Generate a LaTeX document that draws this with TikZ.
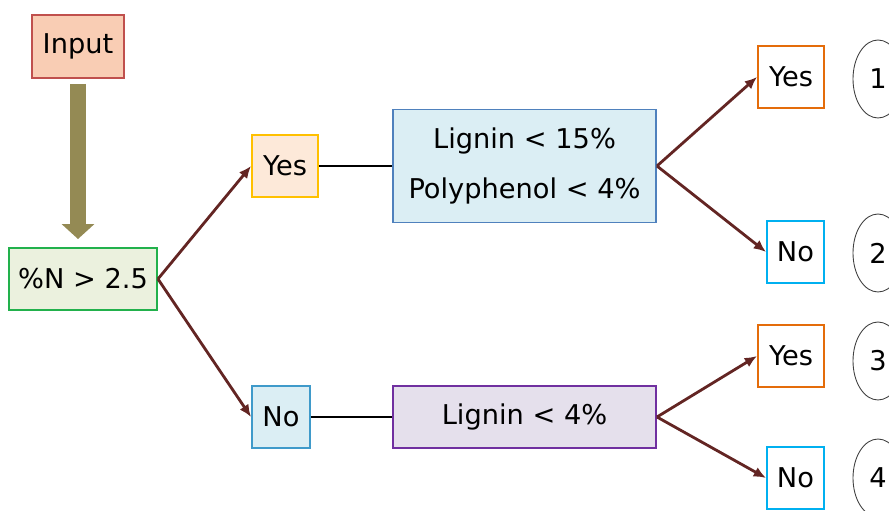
\documentclass[tikz,border=0pt]{standalone}
\usepackage{fontspec}
\setmainfont{DejaVu Sans}
\usepackage{tikz}
\usetikzlibrary{arrows.meta}
\usetikzlibrary{shapes.geometric}
\usepackage{xcolor}

\definecolor{inputfill}{HTML}{F9CDB4}
\definecolor{inputline}{HTML}{C0504D}
\definecolor{condfill}{HTML}{EBF1DE}
\definecolor{condline}{HTML}{22B14C}
\definecolor{yesfill}{HTML}{FDE9D9}
\definecolor{yesline}{HTML}{FFC000}
\definecolor{bluefill}{HTML}{DBEEF4}
\definecolor{blueline}{HTML}{4F81BD}
\definecolor{purplefill}{HTML}{E5E0EC}
\definecolor{purpleline}{HTML}{7030A0}
\definecolor{orangeline}{HTML}{E46C0A}
\definecolor{cyanline}{HTML}{00B0F0}
\definecolor{olive}{HTML}{948A54}
\definecolor{branch}{HTML}{632523}

\begin{document}
\begin{tikzpicture}[
    font=\fontsize{15.5pt}{29pt}\selectfont,
    box/.style={draw, line width=1.1pt, inner sep=0pt, minimum height=1.24cm, align=center},
    leaf/.style={box, fill=white},
    tag/.style={draw=black!75, line width=0.5pt, ellipse, inner sep=0pt, minimum width=1.0cm, minimum height=1.56cm},
    branchline/.style={draw=branch, line width=1.6pt, -{Latex[length=7pt,width=6pt]}},
    link/.style={draw=black, line width=1.2pt}
]
    \useasboundingbox (0,0) rectangle (17.78,10.22);

    % Input and first test
    \node[box, fill=inputfill, draw=inputline, minimum width=1.84cm, minimum height=1.26cm] (input) at (1.56,9.29) {Input};
    \node[box, fill=condfill, draw=condline, minimum width=2.96cm] (cond) at (1.66,4.64) {\%N > 2.5};
    \draw[draw=olive, line width=0.32cm, -{Triangle[length=0.3cm 0 0,width=0.64cm 0]},
          shorten <=0.1cm, shorten >=0.16cm] (input.south) -- (input.south |- cond.north);

    % Upper branch
    \node[box, fill=yesfill, draw=yesline, minimum width=1.32cm] (yes) at (5.70,6.90) {Yes};
    \node[box, fill=bluefill, draw=blueline, minimum width=5.26cm, minimum height=2.26cm] (high) at (10.49,6.90) {Lignin < 15\%\\Polyphenol < 4\%};
    \node[leaf, draw=orangeline, minimum width=1.32cm] (highyes) at (15.82,8.68) {Yes};
    \node[leaf, draw=cyanline, minimum width=1.14cm] (highno) at (15.91,5.18) {No};

    % Lower branch
    \node[box, fill=bluefill, draw=blueline!80!cyan, minimum width=1.16cm] (no) at (5.62,1.88) {No};
    \node[box, fill=purplefill, draw=purpleline, minimum width=5.26cm] (low) at (10.49,1.88) {Lignin < 4\%};
    \node[leaf, draw=orangeline, minimum width=1.32cm] (lowyes) at (15.82,3.10) {Yes};
    \node[leaf, draw=cyanline, minimum width=1.14cm] (lowno) at (15.91,0.66) {No};

    % Outcome numbers
    \node[tag] (c1) at (17.56,8.64) {1};
    \node[tag] (c2) at (17.56,5.16) {2};
    \node[tag] (c3) at (17.56,3.00) {3};
    \node[tag] (c4) at (17.56,0.66) {4};

    % Connectors
    \draw[branchline] (cond.east) -- (yes.west);
    \draw[branchline] (cond.east) -- (no.west);
    \draw[link] (yes.east) -- (high.west);
    \draw[link] (no.east) -- (low.west);
    \draw[branchline] (high.east) -- (highyes.west);
    \draw[branchline] (high.east) -- (highno.west);
    \draw[branchline] (low.east) -- (lowyes.west);
    \draw[branchline] (low.east) -- (lowno.west);
\end{tikzpicture}
\end{document}
